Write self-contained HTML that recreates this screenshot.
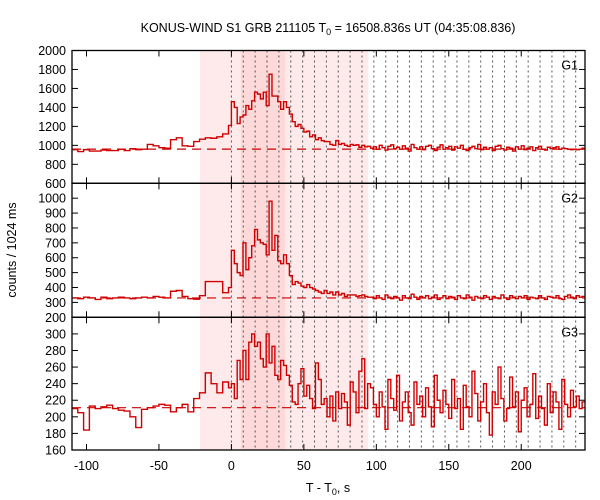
<!DOCTYPE html>
<html><head><meta charset="utf-8"><style>
body{margin:0;background:#fff}
svg{display:block;font-family:"Liberation Sans","DejaVu Sans",sans-serif}
</style></head><body>
<svg id="chart" width="600" height="500" viewBox="0 0 600 500" xmlns="http://www.w3.org/2000/svg">
<rect width="600" height="500" fill="#fff"/>
<text x="328" y="32" text-anchor="middle" font-size="12.5">KONUS-WIND S1 GRB 211105 T<tspan font-size="9" dy="3">0</tspan><tspan dy="-3"> = 16508.836s UT (04:35:08.836)</tspan></text>
<text x="328" y="492" text-anchor="middle" font-size="12.5">T - T<tspan font-size="9" dy="3">0</tspan><tspan dy="-3">, s</tspan></text>
<text transform="translate(16,250) rotate(-90)" text-anchor="middle" font-size="12.5">counts / 1024 ms</text>
<g id="plots"></g>
</svg>
<script>
const preBins = 27, preWidth = 4, postWidth = 2, tStart = -110;
const xTicks = [-100,-50,0,50,100,150,200];
const shadeOuter = [-21.6, 94.5];
const shadeInner = [6.5, 37];
const dotStep = 8.192, dotCount = 30;
const g1Ticks = [600,800,1000,1200,1400,1600,1800,2000];
const g2Ticks = [200,300,400,500,600,700,800,900,1000];
const g3Ticks = [160,180,200,220,240,260,280,300];
const bgLevels = [960, 330, 211];
const g1 = [955,935,955,940,940,950,945,945,960,945,965,955,960,1010,995,975,970,1060,1080,995,990,1040,1065,1080,1075,1090,1120,
1210,1460,1400,1230,1300,1320,1420,1380,1470,1560,1540,1490,1560,1420,1750,1520,1520,1460,1380,1460,1400,1330,1250,1200,1220,1180,1140,1150,1090,1110,1060,1080,1050,1040,1040,1010,1000,1050,1010,1020,1000,990,1010,1000,1005,980,1000,985,990,
970,985,960,1000,975,950,990,1005,965,980,960,995,970,940,1010,975,960,985,955,990,1000,965,945,980,1005,960,975,990,950,985,970,1000,960,945,975,990,965,1010,955,980,960,975,945,990,1000,965,950,980,970,940,985,960,995,955,970,985,945,975,990,960,950,980,965,975,985,960,970,965,960,955,960,955,960,970];
const g2 = [330,325,335,330,320,335,325,330,335,330,325,330,335,330,340,335,330,375,380,340,325,322,345,440,440,440,365,
400,650,560,500,480,700,520,600,680,790,720,700,690,620,980,650,750,580,560,620,560,480,420,440,430,410,400,420,400,390,380,370,360,380,360,370,350,370,350,360,340,350,350,350,340,345,350,340,335,
335,325,345,330,320,350,335,325,340,330,315,345,330,325,355,335,320,340,330,345,325,335,350,320,330,345,325,340,335,320,345,330,325,350,335,315,340,330,325,345,335,320,340,330,325,350,330,320,345,335,325,340,330,345,320,335,330,325,345,330,320,340,335,330,345,325,320,340,350,335,325,345,335,340];
const g3 = [210,205,184,213,210,212,214,210,208,207,200,187,209,211,213,215,214,206,211,215,206,222,229,253,240,229,242,
235,240,222,268,245,280,245,290,300,285,290,270,260,300,265,285,250,245,268,262,250,238,218,215,240,258,225,238,222,210,265,245,215,222,200,225,195,230,210,228,218,190,242,230,205,255,270,210,240,
235,215,200,230,212,185,245,222,208,250,195,218,230,205,190,242,215,225,200,235,212,188,250,220,205,232,215,198,245,210,222,185,238,212,200,255,228,195,218,240,205,178,230,215,260,222,195,210,248,212,230,182,220,235,200,215,252,198,225,210,190,240,205,230,218,185,245,215,200,232,212,225,210,218];

const NS='http://www.w3.org/2000/svg';
const L=72, R=585, XMIN=-110, XMAX=244;
const X=t=>L+(t-XMIN)/(XMAX-XMIN)*(R-L);
const panels=[
 {name:'g1',label:'G1',data:g1,ticks:g1Ticks,min:600,max:2000,top:50.5,bot:183.3,bg:bgLevels[0]},
 {name:'g2',label:'G2',data:g2,ticks:g2Ticks,min:200,max:1100,top:183.3,bot:317.3,bg:bgLevels[1]},
 {name:'g3',label:'G3',data:g3,ticks:g3Ticks,min:160,max:320,top:317.3,bot:450,bg:bgLevels[2]}
];
function mk(tag,attrs,parent){const e=document.createElementNS(NS,tag);for(const k in attrs)e.setAttribute(k,attrs[k]);parent.appendChild(e);return e;}
const root=document.getElementById('plots');
const defs=mk('defs',{},root);
const cp=mk('clipPath',{id:'clipAll'},defs);
mk('rect',{x:L,y:50.5,width:R-L,height:450-50.5},cp);
// shading
let s1=mk('rect',{x:X(shadeOuter[0]),y:50.5,width:X(shadeOuter[1])-X(shadeOuter[0]),height:399.5,fill:'#feeaea'},root);


let s2=mk('rect',{x:X(shadeInner[0]),y:50.5,width:X(shadeInner[1])-X(shadeInner[0]),height:399.5,fill:'#fdd9da'},root);


for(let k=0;k<dotCount;k++){
 const x=X(k*dotStep);
 const d=mk('line',{x1:x,x2:x,y1:50.5,y2:450,stroke:'#555','stroke-width':1,'stroke-dasharray':'2,3'},root);
 
 
}
panels.forEach(p=>{
 const Y=v=>p.bot-(v-p.min)/(p.max-p.min)*(p.bot-p.top);
 const g=mk('g',{},root);
 
 
 const bl=mk('line',{x1:L,x2:R,y1:Y(p.bg),y2:Y(p.bg),stroke:'#cc0000','stroke-width':1.2,'stroke-dasharray':'9,6'},g);
 
 
 let d='';
 for(let i=0;i<p.data.length;i++){
  const t0=i<preBins?tStart+i*preWidth:tStart+preBins*preWidth+(i-preBins)*postWidth;
  const t1=t0+(i<preBins?preWidth:postWidth);
  const y=Y(p.data[i]);
  d+=(i===0?'M'+X(t0)+','+y:'V'+y)+'H'+X(Math.min(t1,XMAX));
 }
 const path=mk('path',{d:d,fill:'none',stroke:'#d00000','stroke-width':1.4,'clip-path':'url(#clipAll)'},g);
 
 
 mk('rect',{x:L,y:p.top,width:R-L,height:p.bot-p.top,fill:'none',stroke:'#000','stroke-width':1.3},g);
 p.ticks.forEach(v=>{
  const y=Y(v);
  mk('line',{x1:L,x2:L+6,y1:y,y2:y,stroke:'#000'},g);
  mk('line',{x1:R-6,x2:R,y1:y,y2:y,stroke:'#000'},g);
  const tx=mk('text',{x:L-6,y:y+4.5,'text-anchor':'end','font-size':12.5},g);
  tx.textContent=v;
  
  
 });
 xTicks.forEach(t=>{
  const x=X(t);
  mk('line',{x1:x,x2:x,y1:p.top,y2:p.top+6,stroke:'#000'},g);
  mk('line',{x1:x,x2:x,y1:p.bot-6,y2:p.bot,stroke:'#000'},g);
 });
 const lb=mk('text',{x:578,y:p.top+19,'text-anchor':'end','font-size':12.5},g);
 lb.textContent=p.label;
 
 
});
xTicks.forEach(t=>{
 const tx=mk('text',{x:X(t),y:470,'text-anchor':'middle','font-size':12.5},root);
 tx.textContent=t;
 
 
});
</script>
</body></html>
